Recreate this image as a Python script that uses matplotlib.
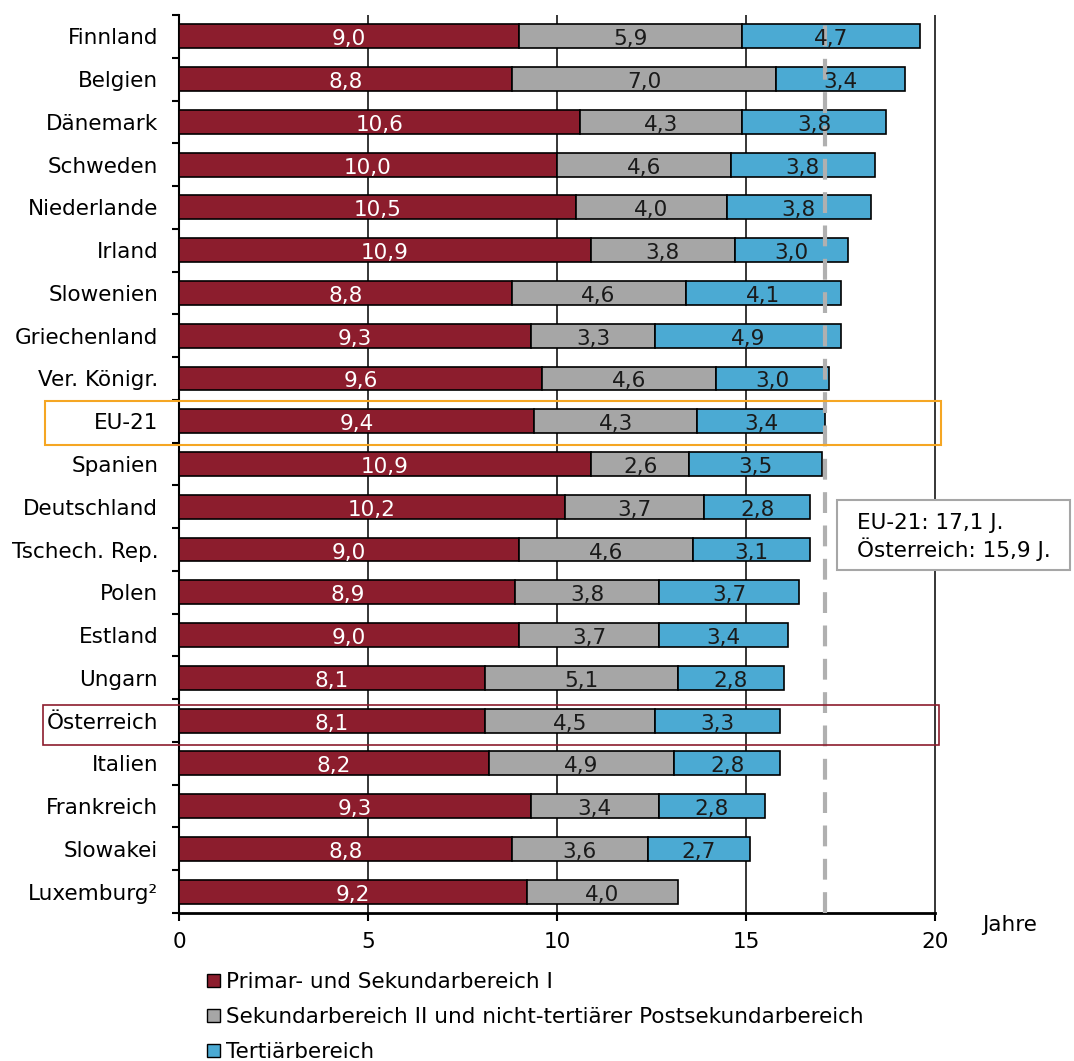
import numpy as np
import matplotlib
matplotlib.use('Agg')
import matplotlib.pyplot as plt
from matplotlib.patches import Rectangle, Patch

countries = ['Finnland', 'Belgien', 'Dänemark', 'Schweden', 'Niederlande', 'Irland',
             'Slowenien', 'Griechenland', 'Ver. Königr.', 'EU-21', 'Spanien',
             'Deutschland', 'Tschech. Rep.', 'Polen', 'Estland', 'Ungarn',
             'Österreich', 'Italien', 'Frankreich', 'Slowakei', 'Luxemburg²']
primar = [9.0, 8.8, 10.6, 10.0, 10.5, 10.9, 8.8, 9.3, 9.6, 9.4, 10.9,
          10.2, 9.0, 8.9, 9.0, 8.1, 8.1, 8.2, 9.3, 8.8, 9.2]
sekundar = [5.9, 7.0, 4.3, 4.6, 4.0, 3.8, 4.6, 3.3, 4.6, 4.3, 2.6,
            3.7, 4.6, 3.8, 3.7, 5.1, 4.5, 4.9, 3.4, 3.6, 4.0]
tertiar = [4.7, 3.4, 3.8, 3.8, 3.8, 3.0, 4.1, 4.9, 3.0, 3.4, 3.5,
           2.8, 3.1, 3.7, 3.4, 2.8, 3.3, 2.8, 2.8, 2.7, np.nan]
series_names = ['Primar- und Sekundarbereich I',
                'Sekundarbereich II und nicht-tertiärer Postsekundarbereich',
                'Tertiärbereich']
eu_avg = 17.1
note_lines = ['EU-21: 17,1 J.', 'Österreich: 15,9 J.']
xticks = [0, 5, 10, 15, 20]

col_red = '#8C1D2D'
col_gray = '#A6A6A6'
col_blue = '#4BAAD3'
colors = [col_red, col_gray, col_blue]
txtcol = ['white', '#1a1a1a', '#1a1a1a']

plt.rcParams['font.family'] = 'DejaVu Sans'
fs = 15.5

fig = plt.figure(figsize=(10.74, 10.61), dpi=100)
W, H = 1074, 1061
ax = fig.add_axes([179 / W, 1 - 913 / H, (935 - 179) / W, (913 - 15) / H])

y = np.arange(len(countries))
left = np.zeros(len(countries))
for vals, c, tc in zip([primar, sekundar, tertiar], colors, txtcol):
    v = np.array(vals, dtype=float)
    ok = ~np.isnan(v)
    ax.barh(y[ok], v[ok], left=left[ok], height=0.56, color=c,
            edgecolor='black', linewidth=1.2, zorder=3)
    for yi, l, w in zip(y[ok], left[ok], v[ok]):
        ax.text(l + w / 2, yi + 0.07, f'{w:.1f}'.replace('.', ','), ha='center',
                va='center', color=tc, fontsize=fs, zorder=5)
    left[ok] += v[ok]

ax.axvline(eu_avg, color='#B0B0B0', ls=(0, (5, 3)), lw=3, zorder=4)

ax.set_xlim(0, 20)
ax.set_ylim(len(countries) - 0.5, -0.5)
# vertical gridlines (not clipped, so the one at 20 keeps full width)
ax.vlines(xticks[1:], -0.5, len(countries) - 0.5, color='black', lw=1.1,
          zorder=0, clip_on=False)
ax.set_xticks(xticks)
ax.set_xticklabels([str(t) for t in xticks], fontsize=fs)
ax.set_yticks(y)
ax.set_yticklabels(countries, fontsize=fs)
ax.set_yticks(np.arange(-0.5, len(countries)), minor=True)
ax.tick_params(axis='y', which='major', length=0, pad=15)
ax.tick_params(axis='y', which='minor', length=5, width=1.5, direction='out')
ax.tick_params(axis='x', length=6, width=1.5, direction='out', pad=8)
for s in ['top', 'right']:
    ax.spines[s].set_visible(False)
ax.spines['left'].set_linewidth(1.5)
ax.spines['bottom'].set_linewidth(2)

fig.text(1010 / W, 1 - 925 / H, 'Jahre', ha='center', va='center', fontsize=fs)

# highlight boxes
fig.patches.append(Rectangle((45 / W, 1 - 445 / H), (941 - 45) / W, 44 / H,
                             transform=fig.transFigure, fill=False,
                             edgecolor='#F5A623', lw=1.5))
fig.patches.append(Rectangle((43 / W, 1 - 745 / H), (939 - 43) / W, 40 / H,
                             transform=fig.transFigure, fill=False,
                             edgecolor=col_red, lw=1.2))

# note box
fig.patches.append(Rectangle((837 / W, 1 - 570 / H), (1070 - 837) / W, 70 / H,
                             transform=fig.transFigure, facecolor='white',
                             edgecolor='#A6A6A6', lw=1.5, zorder=5))
fig.text(857 / W, 1 - 523 / H, note_lines[0], fontsize=fs, va='center', zorder=6)
fig.text(857 / W, 1 - 549 / H, note_lines[1], fontsize=fs, va='center', zorder=6)

handles = [Patch(facecolor=c, edgecolor='black', lw=1) for c in colors]
fig.legend(handles, series_names, loc='upper left',
           bbox_to_anchor=(207 / W, 1 - 972 / H), frameon=False, fontsize=fs,
           handlelength=0.6, handleheight=0.6, handletextpad=0.3,
           labelspacing=0.7, borderaxespad=0, borderpad=0)

fig.savefig('out.png', dpi=100)
